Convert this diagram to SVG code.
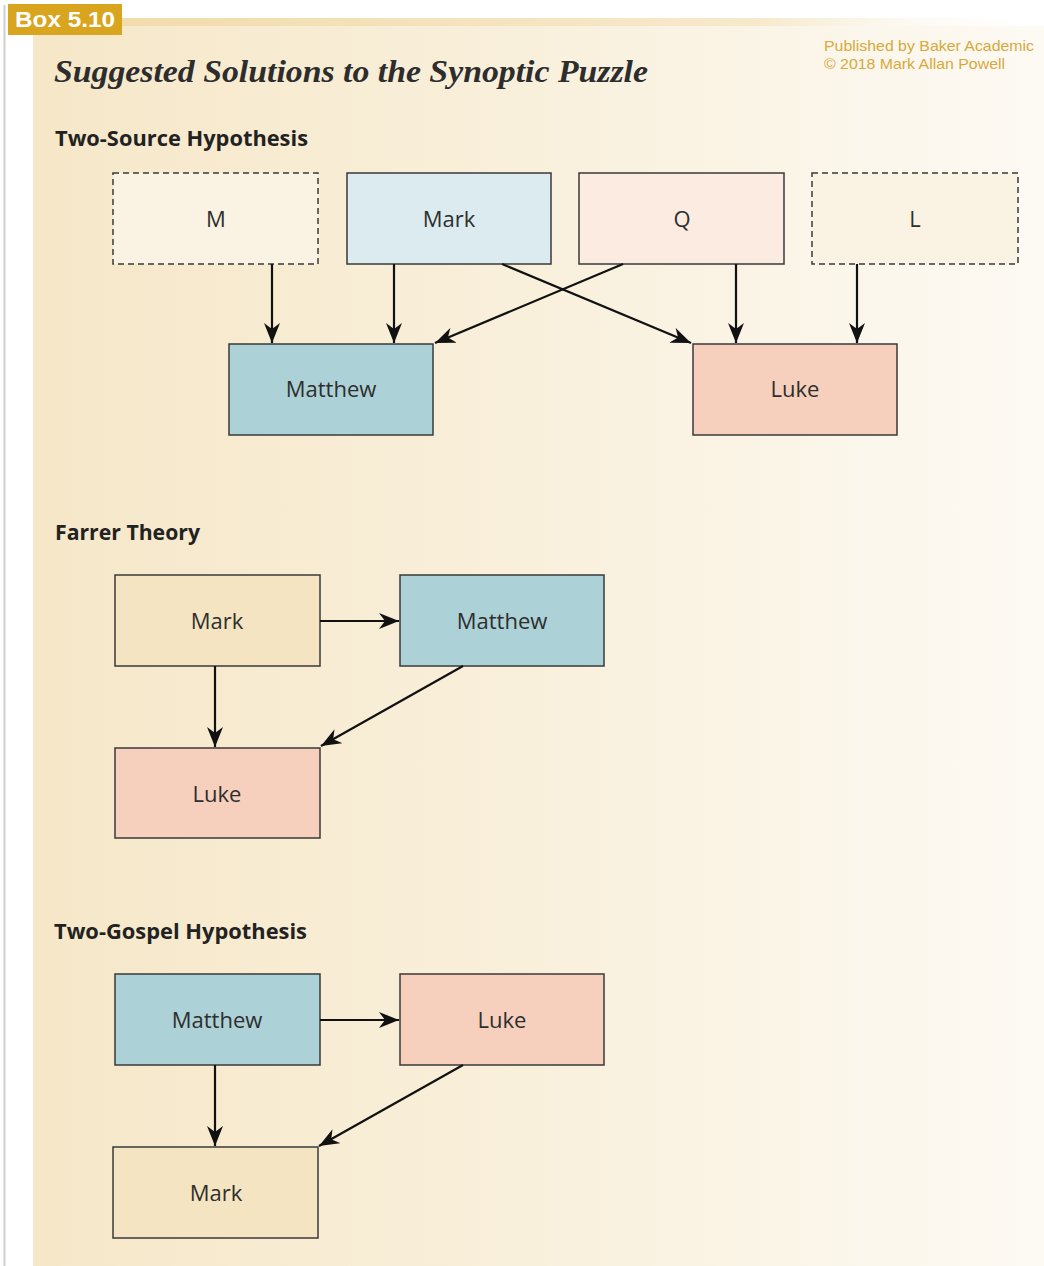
<svg xmlns="http://www.w3.org/2000/svg" width="1044" height="1266" viewBox="0 0 1044 1266">
<defs>
<linearGradient id="bg" x1="0" y1="0" x2="1" y2="0">
<stop offset="0" stop-color="#f6e7c8"/>
<stop offset="0.5" stop-color="#f9f0dc"/>
<stop offset="1" stop-color="#fdfaf4"/>
</linearGradient>
<linearGradient id="bar" x1="0" y1="0" x2="1" y2="0">
<stop offset="0" stop-color="#f2dcac"/>
<stop offset="0.7" stop-color="#f6e9cc"/>
<stop offset="1" stop-color="#fdfaf4" stop-opacity="0"/>
</linearGradient>
<marker id="ah" viewBox="0 0 20 16" markerWidth="20" markerHeight="16" refX="20" refY="8" orient="auto" markerUnits="userSpaceOnUse">
<path d="M0,0 L20,8 L0,16 L6,8 Z" fill="#111"/>
</marker>
<style>
.box{stroke:#3a3a3a;stroke-width:1.5}
.dash{stroke-dasharray:6 4}
.lbl{font-family:"Open Sans","Noto Sans",sans-serif;font-size:22px;fill:#2e2e2e;text-anchor:middle}
.hd{font-family:"Open Sans","Noto Sans",sans-serif;font-size:21px;font-weight:bold;fill:#222}
.con line{stroke:#111;stroke-width:2.2;marker-end:url(#ah)}
.pub{font-family:"Liberation Sans",Arial,sans-serif;font-size:15px;fill:#d9a83a}
</style>
</defs>
<rect x="0" y="0" width="1044" height="1266" fill="#ffffff"/>
<line x1="4.5" y1="5" x2="4.5" y2="1266" stroke="#cfcfcf" stroke-width="2"/>
<rect x="33" y="26" width="1011" height="1240" fill="url(#bg)"/>
<rect x="122" y="18" width="910" height="8" fill="url(#bar)"/>
<rect x="8" y="4" width="114" height="31" fill="#d9a41e"/>
<text x="15" y="27" font-family="'Liberation Sans',Arial,sans-serif" font-size="22" font-weight="bold" fill="#ffffff" textLength="100" lengthAdjust="spacingAndGlyphs">Box 5.10</text>
<text x="54" y="82" font-family="'Liberation Serif','Times New Roman',serif" font-size="31" font-style="italic" font-weight="bold" fill="#2d2d2d" textLength="594" lengthAdjust="spacingAndGlyphs">Suggested Solutions to the Synoptic Puzzle</text>
<text class="pub" x="824" y="51" textLength="210" lengthAdjust="spacingAndGlyphs">Published by Baker Academic</text>
<text class="pub" x="824" y="69" textLength="181" lengthAdjust="spacingAndGlyphs">© 2018 Mark Allan Powell</text>
<text class="hd" x="55" y="146" textLength="253" lengthAdjust="spacingAndGlyphs">Two-Source Hypothesis</text>
<text class="hd" x="55" y="540" textLength="145" lengthAdjust="spacingAndGlyphs">Farrer Theory</text>
<text class="hd" x="54" y="939" textLength="253" lengthAdjust="spacingAndGlyphs">Two-Gospel Hypothesis</text>

<g id="ts-M"><rect class="box dash" x="113" y="173" width="205" height="91" fill="#faf3e3"/><text class="lbl" x="216" y="227">M</text></g>
<g id="ts-Mark"><rect class="box" x="347" y="173" width="204" height="91" fill="#dcebef"/><text class="lbl" x="449" y="227">Mark</text></g>
<g id="ts-Q"><rect class="box" x="579" y="173" width="205" height="91" fill="#fcebe1"/><text class="lbl" x="682" y="227">Q</text></g>
<g id="ts-L"><rect class="box dash" x="812" y="173" width="206" height="91" fill="#faf3e3"/><text class="lbl" x="915" y="227">L</text></g>
<g id="ts-Matthew"><rect class="box" x="229" y="344" width="204" height="91" fill="#acd1d7"/><text class="lbl" x="331" y="397">Matthew</text></g>
<g id="ts-Luke"><rect class="box" x="693" y="344" width="204" height="91" fill="#f6d0bc"/><text class="lbl" x="795" y="397">Luke</text></g>

<g id="fa-Mark"><rect class="box" x="115" y="575" width="205" height="91" fill="#f5e4c1"/><text class="lbl" x="217" y="629">Mark</text></g>
<g id="fa-Matthew"><rect class="box" x="400" y="575" width="204" height="91" fill="#acd1d7"/><text class="lbl" x="502" y="629">Matthew</text></g>
<g id="fa-Luke"><rect class="box" x="115" y="748" width="205" height="90" fill="#f6d0bc"/><text class="lbl" x="217" y="802">Luke</text></g>

<g id="tg-Matthew"><rect class="box" x="115" y="974" width="205" height="91" fill="#acd1d7"/><text class="lbl" x="217" y="1028">Matthew</text></g>
<g id="tg-Luke"><rect class="box" x="400" y="974" width="204" height="91" fill="#f6d0bc"/><text class="lbl" x="502" y="1028">Luke</text></g>
<g id="tg-Mark"><rect class="box" x="113" y="1147" width="205" height="91" fill="#f5e4c1"/><text class="lbl" x="216" y="1201">Mark</text></g>

<g id="connectors" class="con">
<line x1="272" y1="264" x2="272" y2="343"/>
<line x1="394" y1="264" x2="394" y2="343"/>
<line x1="502" y1="264" x2="691" y2="343"/>
<line x1="623" y1="264" x2="435" y2="343"/>
<line x1="736" y1="264" x2="736" y2="343"/>
<line x1="857" y1="264" x2="857" y2="343"/>
<line x1="320" y1="621" x2="399" y2="621"/>
<line x1="215" y1="666" x2="215" y2="747"/>
<line x1="463" y1="666" x2="321" y2="746"/>
<line x1="320" y1="1020" x2="399" y2="1020"/>
<line x1="215" y1="1065" x2="215" y2="1146"/>
<line x1="463" y1="1065" x2="319" y2="1146"/>
</g>
</svg>
